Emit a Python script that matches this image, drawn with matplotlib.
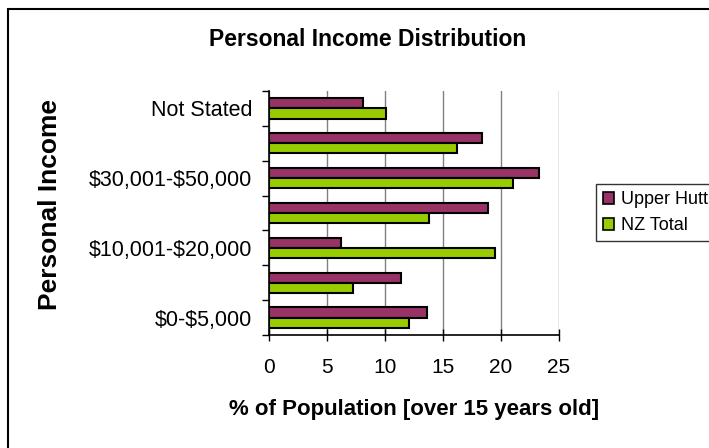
import numpy as np
import matplotlib
matplotlib.use('Agg')
import matplotlib.pyplot as plt
import matplotlib.patches as mpatches

plt.rcParams['font.family'] = ['Liberation Sans', 'DejaVu Sans']

# data
categories = ['$0-$5,000', '$5,001-$10,000', '$10,001-$20,000', '$20,001-$30,000',
              '$30,001-$50,000', '$50,001+', 'Not Stated']
upper_hutt = [13.6, 11.4, 6.2, 18.9, 23.3, 18.4, 8.1]
nz_total = [12.1, 7.2, 19.5, 13.8, 21.0, 16.2, 10.1]
xticks = [0, 5, 10, 15, 20, 25]

col_uh = '#993366'
col_nz = '#99CC00'

fig = plt.figure(figsize=(7.09, 4.48), dpi=100)
ax = fig.add_axes([269 / 709, 1 - 335 / 448, 290 / 709, 244 / 448])

y = np.arange(len(categories))
h = 0.29
ax.barh(y + h / 2, upper_hutt, height=h, color=col_uh, edgecolor='k', linewidth=1.5, zorder=3)
ax.barh(y - h / 2, nz_total, height=h, color=col_nz, edgecolor='k', linewidth=1.5, zorder=3)

ax.set_xlim(0, 25)
ax.set_ylim(-0.5, len(categories) - 0.5)
ax.set_xticks(xticks)
ax.set_xticklabels([str(t) for t in xticks])
ax.tick_params(axis='x', direction='inout', length=9, width=1, labelsize=15, pad=12)
ax.xaxis.grid(True, color='#808080', linewidth=1, zorder=0)

# category boundaries as major ticks, labels on minor ticks (every other one)
ax.set_yticks(np.arange(-0.5, len(categories), 1.0))
ax.set_yticklabels([])
ax.tick_params(axis='y', which='major', direction='out', length=5, width=1)
ax.set_yticks(y, minor=True)
ax.set_yticklabels([c.replace('$', r'\$') if i % 2 == 0 else '' for i, c in enumerate(categories)],
                   minor=True)
ax.tick_params(axis='y', which='minor', length=0, labelsize=15.5, pad=12)

ax.spines['top'].set_visible(False)
ax.spines['right'].set_visible(False)
ax.spines['left'].set_linewidth(1.2)
ax.spines['bottom'].set_linewidth(1.2)

ax.set_xlabel('% of Population [over 15 years old]', fontsize=16, fontweight='bold', labelpad=16)
fig.text(50 / 709, 1 - 204 / 448, 'Personal Income', rotation=90, fontsize=19,
         fontweight='bold', ha='center', va='center')
fig.text(368 / 709, 1 - 40 / 448, 'Personal Income Distribution', fontsize=16.5,
         fontweight='bold', ha='center', va='center')

# outer chart border, cut off at the right and bottom
fig.patches.append(mpatches.Rectangle((8 / 709, -0.2), 1.5, 1.2 - 9 / 448, fill=False,
                                      edgecolor='k', linewidth=1.5,
                                      transform=fig.transFigure, figure=fig))

handles = [mpatches.Patch(facecolor=col_uh, edgecolor='k', linewidth=1.2, label='Upper Hutt'),
           mpatches.Patch(facecolor=col_nz, edgecolor='k', linewidth=1.2, label='NZ Total')]
leg = fig.legend(handles=handles, loc='upper left', bbox_to_anchor=(596 / 709, 1 - 184 / 448),
                 fontsize=13, frameon=True, fancybox=False, borderaxespad=0,
                 handlelength=0.6, handleheight=0.6, handletextpad=0.4, borderpad=0.4,
                 labelspacing=0.5)
leg.get_frame().set_edgecolor('k')
leg.get_frame().set_linewidth(1)

fig.savefig('out.png', dpi=100)
